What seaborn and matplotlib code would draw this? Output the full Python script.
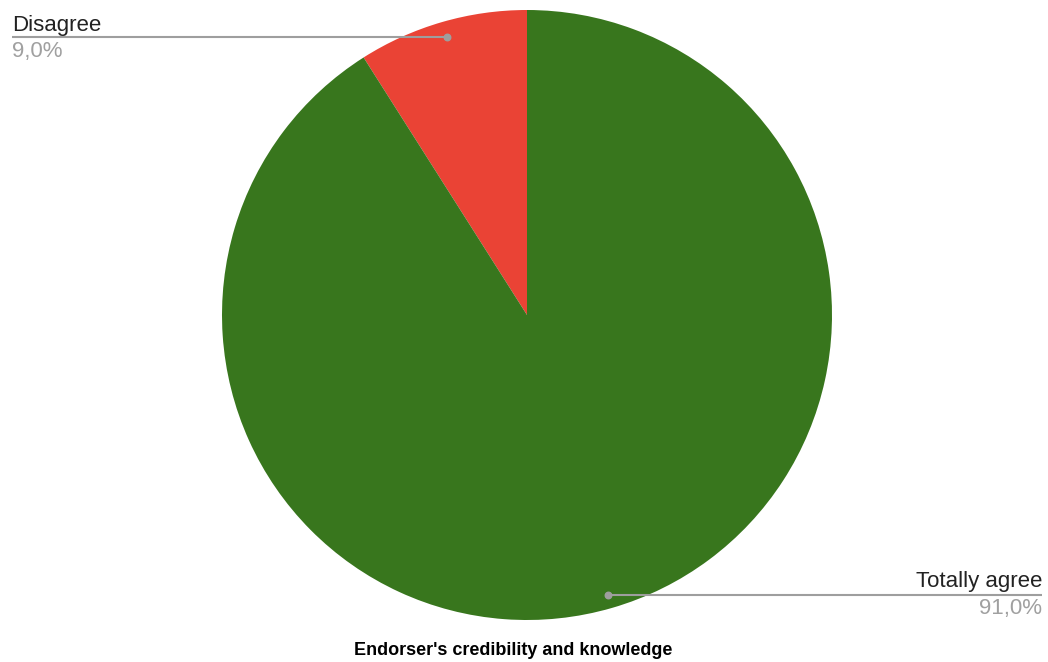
import matplotlib
matplotlib.use("Agg")
import matplotlib.pyplot as plt
import seaborn as sns

# Survey answers for the endorser item
categories = ["Disagree", "Totally agree"]
shares = [9.0, 91.0]
colors = ["#ea4335", "#38761d"]
title = "Endorser's credibility and knowledge"

sns.set_theme(style="white")
plt.rcParams["font.family"] = ["Liberation Sans", "DejaVu Sans"]

W, H = 1048, 662
fig = plt.figure(figsize=(W / 100, H / 100), dpi=100)
ax = fig.add_axes([0, 0, 1, 1])

cx, cy, r = 527, H - 315, 305
ax.pie(shares, colors=colors, startangle=90, counterclock=True,
       center=(cx, cy), radius=r, frame=True,
       wedgeprops=dict(linewidth=0))
ax.set_xlim(0, W)
ax.set_ylim(0, H)
ax.set_aspect("equal")
ax.axis("off")

line_c = "#9e9e9e"
label_c = "#222222"
pct_c = "#a0a0a0"

def fmt(v):
    return f"{v:.1f}%".replace(".", ",")

# Disagree: leader to the left edge
y0 = H - 37
ax.plot([12, 447], [y0, y0], color=line_c, lw=1.5, solid_capstyle="butt")
ax.scatter([447], [y0], s=22, color=line_c, zorder=5)
ax.text(12, H - 31, categories[0], fontsize=16, color=label_c, ha="left", va="baseline")
ax.text(12, H - 57, fmt(shares[0]), fontsize=16, color=pct_c, ha="left", va="baseline")

# Totally agree: leader to the right edge
y1 = H - 594.5
ax.plot([608, 1042], [y1, y1], color=line_c, lw=1.5, solid_capstyle="butt")
ax.scatter([608], [y1], s=22, color=line_c, zorder=5)
ax.text(1042, H - 587, categories[1], fontsize=16, color=label_c, ha="right", va="baseline")
ax.text(1042, H - 614, fmt(shares[1]), fontsize=16, color=pct_c, ha="right", va="baseline")

ax.text(513, H - 655, title, fontsize=13, fontweight="bold", color="#000000",
        ha="center", va="baseline")

fig.savefig("out.png", dpi=100)
